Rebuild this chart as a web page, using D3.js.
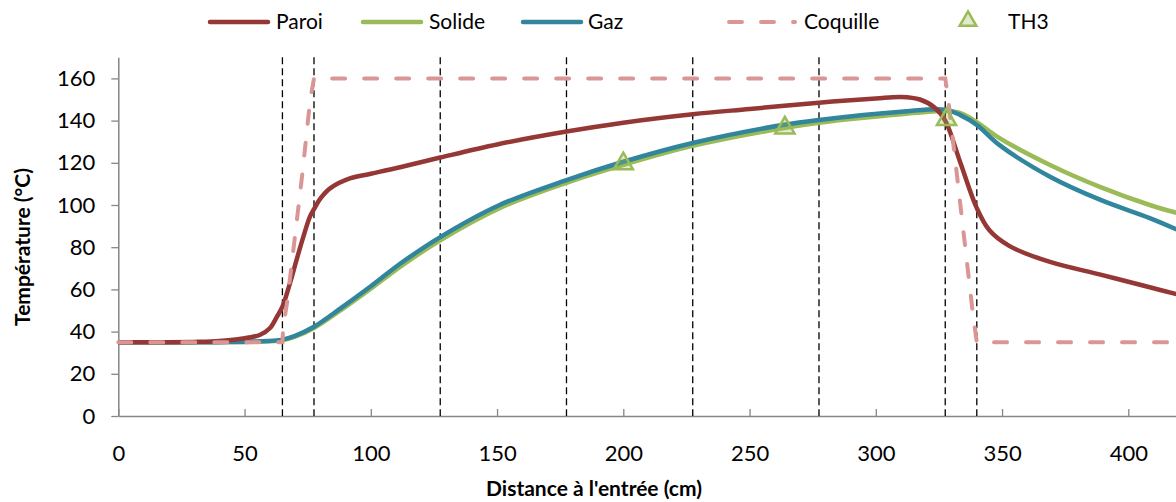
<!DOCTYPE html>
<html>
<head>
<meta charset="utf-8">
<style>
  body { margin: 0; background: #fff; }
  text { font-family: Lato, "Open Sans", sans-serif; fill: #000; }
</style>
</head>
<body>
<svg width="1176" height="502"></svg>
<script src="https://d3js.org/d3.v7.min.js"></script>
<script>
  // distances (cm) and temperatures (°C)
  var paroiX = [0, 20, 32, 40, 48, 56, 60, 62.8, 65, 68, 70.6, 73.3, 75.9, 77.5, 80, 84, 92, 100, 112, 127.5, 150, 177.5, 200, 227.5, 250, 277.5, 300, 310, 317.5, 323.5, 327.5, 333.5, 340, 345, 353, 369, 389, 408.5, 420];
  var paroiT = [35, 35, 35.2, 35.6, 36.5, 38.4, 41.6, 47, 51.8, 63, 74, 85, 94.5, 98, 103, 108, 112.7, 114.8, 118, 122.5, 128.7, 134.8, 139, 143, 145.5, 148.5, 150.5, 151.2, 150, 146, 140, 120, 98.5, 88, 80.5, 73, 67, 61, 57.5];

  var gazX = [0, 40, 55, 65, 70, 77.5, 88, 100, 112, 127.5, 151, 177.5, 200, 227.5, 263.6, 277.5, 310, 327.5, 333.5, 340, 349, 369, 389, 408.5, 420];
  var gazT = [35, 35, 35.3, 36.2, 38, 42.3, 51, 61.5, 72.5, 84.8, 100, 111.8, 120.5, 129.4, 138, 140.3, 144.2, 145.2, 142.6, 138, 128.4, 113.4, 102.4, 93.8, 88];

  var solideX = [0, 40, 55, 65, 70, 77.5, 88, 100, 112, 127.5, 151, 177.5, 200, 227.5, 263.6, 277.5, 310, 327.5, 333.5, 340, 349, 369, 389, 408.5, 420];
  var solideT = [35, 35, 35.2, 35.9, 37.6, 41.7, 50, 60.3, 71, 83.3, 98.5, 110.5, 119, 128, 136.5, 139, 143, 144.5, 143.5, 139.3, 131.7, 119, 108.5, 100, 96];

  var coquilleX = [0, 65, 65.3, 67, 73, 76, 77.5, 327.5, 328.5, 338.5, 340, 420];
  var coquilleT = [35, 35, 42, 55, 116, 150, 160, 160, 152, 48, 35, 35];

  var th3X = [200, 264, 328];
  var th3T = [120, 137, 141];

  var zoneX = [65, 77.5, 127.5, 177.5, 227.5, 277.5, 327.5, 340];

  var xTicks = [0, 50, 100, 150, 200, 250, 300, 350, 400];
  var yTicks = [0, 20, 40, 60, 80, 100, 120, 140, 160];

  var legendNames = ["Paroi", "Solide", "Gaz", "Coquille", "TH3"];
  var legendColors = ["#953735", "#9BBB59", "#31859C", "#D99694", "#9BBB59"];

  var svg = d3.select("svg");

  var x = d3.scaleLinear().domain([0, 420]).range([118.3, 1178.8]);
  var y = d3.scaleLinear().domain([0, 170]).range([416, 57.3]);

  function pts(xs, ts) {
    return xs.map(function(v, i) { return [v, ts[i]]; });
  }

  // axes
  var xAxis = svg.append("g")
      .attr("transform", "translate(0," + y(0) + ")")
      .call(d3.axisBottom(x).tickValues(xTicks).tickSize(-7).tickSizeOuter(0).tickPadding(29));
  var yAxis = svg.append("g")
      .attr("transform", "translate(" + x(0) + ",0)")
      .call(d3.axisLeft(y).tickValues(yTicks).tickSize(7).tickSizeOuter(0).tickPadding(16));

  [xAxis, yAxis].forEach(function(a) {
    a.select(".domain").attr("stroke", "#868686").attr("stroke-width", 1.5);
    a.selectAll(".tick line").attr("stroke", "#868686").attr("stroke-width", 1.3);
    a.selectAll(".tick text").style("font-size", "22px").style("font-family", "Lato, sans-serif").attr("fill", "#000");
  });

  // vertical zone lines
  svg.append("g").selectAll("line")
    .data(zoneX)
    .enter().append("line")
      .attr("x1", function(d) { return x(d); })
      .attr("x2", function(d) { return x(d); })
      .attr("y1", y(170))
      .attr("y2", y(0))
      .attr("stroke", "#000")
      .attr("stroke-width", 1.3)
      .attr("stroke-dasharray", "7,4");

  var line = d3.line()
      .x(function(d) { return x(d[0]); })
      .y(function(d) { return y(d[1]); })
      .curve(d3.curveCatmullRom.alpha(0.5));

  var lineLin = d3.line()
      .x(function(d) { return x(d[0]); })
      .y(function(d) { return y(d[1]); });

  svg.append("path")
    .datum(pts(solideX, solideT))
    .attr("fill", "none")
    .attr("stroke", "#9BBB59")
    .attr("stroke-width", 4.5)
    .attr("d", line);

  svg.append("path")
    .datum(pts(gazX, gazT))
    .attr("fill", "none")
    .attr("stroke", "#31859C")
    .attr("stroke-width", 4.5)
    .attr("d", line);

  svg.append("path")
    .datum(pts(paroiX, paroiT))
    .attr("fill", "none")
    .attr("stroke", "#953735")
    .attr("stroke-width", 4.5)
    .attr("d", line);

  svg.append("path")
    .datum(pts(coquilleX, coquilleT))
    .attr("fill", "none")
    .attr("stroke", "#D99694")
    .attr("stroke-width", 4)
    .attr("stroke-linecap", "round")
    .attr("stroke-dasharray", "13,19")
    .attr("d", lineLin);

  var tri = d3.symbol().type(d3.symbolTriangle).size(160);

  svg.append("g").selectAll("path")
    .data(pts(th3X, th3T))
    .enter().append("path")
      .attr("transform", function(d) { return "translate(" + x(d[0]) + "," + (y(d[1]) + 1) + ")"; })
      .attr("d", tri)
      .attr("fill", "#9BBB59")
      .attr("fill-opacity", 0.3)
      .attr("stroke", "#9BBB59")
      .attr("stroke-width", 2.5);

  // axis titles
  svg.append("text")
    .attr("x", 594)
    .attr("y", 496)
    .attr("text-anchor", "middle")
    .style("font-size", "21px")
    .style("font-weight", "bold")
    .text("Distance à l'entrée (cm)");

  svg.append("text")
    .attr("transform", "translate(30,247) rotate(-90)")
    .attr("text-anchor", "middle")
    .style("font-size", "21px")
    .style("font-weight", "bold")
    .text("Température (°C)");

  // legend
  var legendLineX = [208, 361, 521, 727, 0];
  var legendTextX = [276, 429, 588, 804, 1008];
  var legend = svg.append("g");
  legendNames.forEach(function(name, i) {
    if (name === "TH3") {
      legend.append("path")
        .attr("transform", "translate(968,21)")
        .attr("d", d3.symbol().type(d3.symbolTriangle).size(120))
        .attr("fill", "#9BBB59")
        .attr("fill-opacity", 0.3)
        .attr("stroke", "#9BBB59")
        .attr("stroke-width", 2.5);
    } else {
      legend.append("line")
        .attr("x1", legendLineX[i] + 2)
        .attr("x2", legendLineX[i] + (name === "Coquille" ? 68 : 60))
        .attr("y1", 22)
        .attr("y2", 22)
        .attr("stroke", legendColors[i])
        .attr("stroke-width", name === "Coquille" ? 4 : 4.5)
        .attr("stroke-linecap", "round")
        .attr("stroke-dasharray", name === "Coquille" ? "13,19" : null);
    }
    legend.append("text")
      .attr("x", legendTextX[i])
      .attr("y", 29)
      .style("font-size", "21px")
      .text(name);
  });
</script>
</body>
</html>
